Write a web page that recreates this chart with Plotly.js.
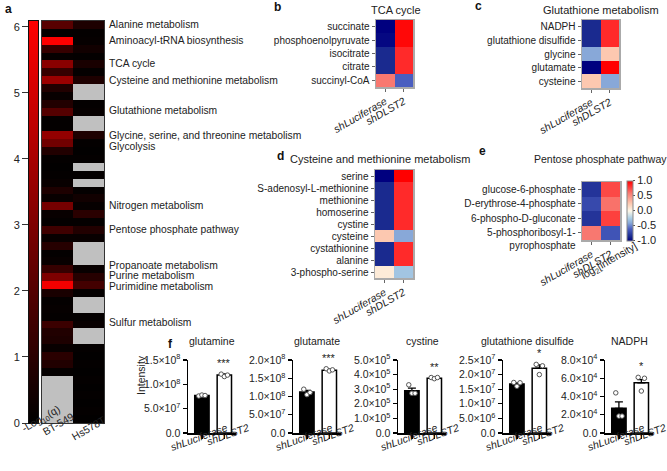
<!DOCTYPE html>
<html><head><meta charset="utf-8">
<script src="https://cdn.plot.ly/plotly-3.0.1.min.js"></script>
<style>html,body{margin:0;padding:0;background:#fff}#chart{width:667px;height:471px}</style>
</head><body><div id="chart"></div>
<script>
const W = 667, H = 471;
const FONT = 'Liberation Sans, Arial, Helvetica, sans-serif';

// ---------------- Panel a data ----------------
const cellLines = ['BT-549', 'Hs578T'];
const bt549Q = [2.1, 0.1, 6.05, 1.3, 0.15, 3.3, 1.3, 3.7, 0.8, 0.2,
  0.8, 2.0, 0.1, 0.1, 3.5, 2.7, 0.8, 0.1, 0.05, 0.1,
  0.2, 0.7, 0.2, 2.8, 0.2, 0.1, 1.5, 0.2, 0.9, 0.1,
  0.2, 1.3, 3.0, 5.8, 0.6, 0.1, 0.15, 0.1, 1.4, 0.8,
  0.7, 0.2, 1.0, 0.8, 0.1, null, null, null, null, null, null];
const hs578tQ = [0.7, 0.1, 0.15, 0.4, 0.1, 0.6, 0.1, 0.7, null, null,
  0.1, 0.15, null, null, 0.7, 0.1, 0.05, 0.1, null, 0.1,
  null, 0.1, 0.4, 0.15, 1.0, 0.1, 0.8, 0.2, null, null,
  null, 0.2, 0.9, 1.6, 0.1, null, null, 0.1, 0.2, null,
  null, 0.1, 0.05, 0.1, 0.05, 0.1, 0.05, 0.1, 0.05, 0.1, 0.05];
const qScaleRange = [0, 6.09];
const qTicks = [0, 1, 2, 3, 4, 5, 6];
const pathwayLabels = ['Alanine metabolism', 'Aminoacyl-tRNA biosynthesis', 'TCA cycle',
  'Cysteine and methionine metabolism', 'Glutathione metabolism',
  'Glycine, serine, and threonine metabolism', 'Glycolysis', 'Nitrogen metabolism',
  'Pentose phosphate pathway', 'Propanoate metabolism', 'Purine metabolism',
  'Purimidine metabolism', 'Sulfur metabolism'];
const pathwayLabelRows = [0, 2, 4.9, 7, 10.9, 14.0, 15.4, 22.9, 26, 30.5, 31.85, 33.2, 37.7];

// ---------------- Panels b-e data ----------------
const conditions = ['shLuciferase', 'shDLST2'];
const tcaMets = ['succinate', 'phosphoenolpyruvate', 'isocitrate', 'citrate', 'succinyl-CoA'];
const tcaLuc = [-1, -0.97, -0.85, -0.85, 0.6];
const tcaDlst = [0.97, 0.97, 0.85, 0.85, -0.6];
const gshMets = ['NADPH', 'glutathione disulfide', 'glycine', 'glutamate', 'cysteine'];
const gshLuc = [-0.85, -0.85, -0.4, -1, 0.25];
const gshDlst = [0.85, 0.85, 0.25, 1, -0.4];
const cysMets = ['serine', 'S-adenosyl-L-methionine', 'methionine', 'homoserine', 'cystine',
  'cysteine', 'cystathionine', 'alanine', '3-phospho-serine'];
const cysLuc = [-1, -0.85, -0.85, -0.85, -0.85, 0.25, -0.85, -0.85, 0.07];
const cysDlst = [1, 0.85, 0.85, 0.85, 0.85, -0.4, 0.85, 0.85, -0.28];
const pppMets = ['glucose-6-phosphate', 'D-erythrose-4-phosphate', '6-phospho-D-gluconate',
  '5-phosphoribosyl-1-pyrophosphate'];
const pppLabels = ['glucose-6-phosphate', 'D-erythrose-4-phosphate', '6-phospho-D-gluconate',
  '&nbsp;<br>5-phosphoribosyl-1-<br>pyrophosphate'];
const pppLuc = [-0.8, -0.7, -0.8, 0.6];
const pppDlst = [0.75, 0.62, 0.78, -0.65];
const log2Ticks = [-1, -0.5, 0, 0.5, 1];
const log2TickText = ['-1.0', '-0.5', '0.0', '0.5', '1.0'];

// ---------------- Panel f data ----------------
const fTitles = ['glutamine', 'glutamate', 'cystine', 'glutathione disulfide', 'NADPH'];
const fTickVals = [[0, 5e7, 1e8, 1.5e8], [0, 5e7, 1e8, 1.5e8, 2e8],
  [0, 1e5, 2e5, 3e5, 4e5, 5e5], [0, 5e6, 1e7, 1.5e7, 2e7, 2.5e7], [0, 2e4, 4e4, 6e4, 8e4]];
const fTickText = [
  ['0.0', '5.0×10<sup>7</sup>', '1.0×10<sup>8</sup>', '1.5×10<sup>8</sup>'],
  ['0.0', '5.0×10<sup>7</sup>', '1.0×10<sup>8</sup>', '1.5×10<sup>8</sup>', '2.0×10<sup>8</sup>'],
  ['0.0', '1.0×10<sup>5</sup>', '2.0×10<sup>5</sup>', '3.0×10<sup>5</sup>', '4.0×10<sup>5</sup>', '5.0×10<sup>5</sup>'],
  ['0.0', '5.0×10<sup>6</sup>', '1.0×10<sup>7</sup>', '1.5×10<sup>7</sup>', '2.0×10<sup>7</sup>', '2.5×10<sup>7</sup>'],
  ['0.0', '2.0×10<sup>4</sup>', '4.0×10<sup>4</sup>', '6.0×10<sup>4</sup>', '8.0×10<sup>4</sup>']];
const fMeanLuc = [7.7e7, 1.12e8, 2.9e5, 1.68e7, 2.7e4];
const fMeanDlst = [1.19e8, 1.72e8, 3.75e5, 2.22e7, 5.5e4];
const fSemLuc = [1.2e6, 5e6, 1.8e4, 4e5, 7e3];
const fSemDlst = [2.5e6, 3e6, 5e3, 1.1e6, 3.5e3];
const fPtsLuc = [[7.6e7, 7.8e7, 7.7e7], [1.2e8, 1.05e8, 1.11e8], [3.3e5, 2.72e5, 2.72e5],
  [1.73e7, 1.6e7, 1.72e7], [4.4e4, 1.85e4, 1.85e4]];
const fPtsDlst = [[1.21e8, 1.16e8, 1.19e8], [1.76e8, 1.7e8, 1.73e8], [3.8e5, 3.72e5, 3.8e5],
  [2.35e7, 2.0e7, 2.3e7], [6.1e4, 4.6e4, 6.0e4]];
const fStars = ['***', '***', '**', '*', '*'];

// ---------------- layout geometry (pixels) ----------------
const xd = (a, b) => [a / W, b / W];
const yd = (top, bottom) => [1 - bottom / H, 1 - top / H];

const qColors = [[0, '#000000'], [1, '#ff0000']];
const divColors = [[0, '#00007f'], [0.075, '#1a2a8f'], [0.2, '#4a5ec0'], [0.3, '#88a8d8'],
  [0.375, '#a8cce4'], [0.5, '#fdf8e8'], [0.625, '#fcc8b0'], [0.8, '#f87870'],
  [0.925, '#ff2a2a'], [1, '#ff0000']];

const traces = [];
const layout = {
  width: W, height: H, margin: {l: 0, r: 0, t: 0, b: 0},
  paper_bgcolor: '#fff', plot_bgcolor: 'rgba(0,0,0,0)',
  font: {family: FONT, size: 10, color: '#222'},
  showlegend: false, annotations: []
};
const ann = layout.annotations;

// Panel a: colour-scale strip (a ramp of the colour scale, drawn on its own axis)
const qRamp = [];
for (let i = 0; i <= 200; i++) qRamp.push(qScaleRange[0] + (qScaleRange[1] - qScaleRange[0]) * i / 200);
traces.push({type: 'heatmap', x: [0], y: qRamp, z: qRamp.map(v => [v]),
  zmin: qScaleRange[0], zmax: qScaleRange[1], colorscale: qColors, showscale: false,
  hoverinfo: 'skip', xaxis: 'x', yaxis: 'y'});
layout.xaxis = {domain: xd(29, 38), range: [-0.5, 0.5], showticklabels: false, ticks: '',
  showgrid: false, zeroline: false, showline: true, mirror: true, linecolor: '#111',
  linewidth: 1, anchor: 'y'};
layout.yaxis = {domain: yd(21, 423), range: qScaleRange, tickvals: qTicks, ticks: 'outside',
  ticklen: 6, tickwidth: 1, tickcolor: '#333', showgrid: false, zeroline: false,
  showline: true, mirror: true, linecolor: '#111', linewidth: 1, anchor: 'x',
  tickfont: {size: 11, color: '#222'}};

// Panel a: main heatmap
const rowIdx = bt549Q.map((_, i) => i);
const qZ = rowIdx.map(i => [bt549Q[i], hs578tQ[i]]);
const grayMask = qZ.map(r => r.map(v => v === null ? 1 : null));
traces.push({type: 'heatmap', x: [0, 1], y: rowIdx, z: grayMask, zmin: 0, zmax: 1,
  colorscale: [[0, '#c0c0c0'], [1, '#c0c0c0']], showscale: false, hoverinfo: 'skip',
  xaxis: 'x2', yaxis: 'y2'});
traces.push({type: 'heatmap', x: [0, 1], y: rowIdx, z: qZ,
  zmin: qScaleRange[0], zmax: qScaleRange[1], colorscale: qColors, showscale: false,
  xaxis: 'x2', yaxis: 'y2'});
layout.xaxis2 = {domain: xd(42, 104), range: [-0.5, 1.5], showticklabels: false, ticks: '',
  showgrid: false, zeroline: false, showline: true, mirror: true, linecolor: '#333',
  linewidth: 1, anchor: 'y2'};
layout.yaxis2 = {domain: yd(21, 423), range: [rowIdx.length - 0.5, -0.5], showticklabels: false,
  ticks: '', showgrid: false, zeroline: false, showline: true, mirror: true,
  linecolor: '#333', linewidth: 1, anchor: 'x2'};
pathwayLabels.forEach((t, i) => ann.push({text: t, xref: 'paper', yref: 'y2', x: 107 / W,
  y: pathwayLabelRows[i], xanchor: 'left', yanchor: 'middle', showarrow: false,
  font: {size: 10.3, color: '#222'}}));
ann.push({text: '-Log<sub>10</sub>(q)', xref: 'paper', yref: 'paper', x: 17 / W, y: 1 - 438 / H,
  textangle: -30, showarrow: false, font: {size: 10.5}});
cellLines.forEach((c, i) => ann.push({text: c, xref: 'x2', yref: 'paper', x: i, y: 1 - (440 + 5 * i) / H,
  textangle: -30, showarrow: false, font: {size: 10.5}}));

// Panels b-e heatmaps
function smallHeat(n, mets, labels, luc, dlst, xdom, ydom, showScale) {
  const z = mets.map((m, i) => [luc[i], dlst[i]]);
  const t = {type: 'heatmap', x: conditions, y: mets, z: z, zmin: -1, zmax: 1,
    colorscale: divColors, showscale: !!showScale, xaxis: 'x' + n, yaxis: 'y' + n};
  if (showScale) {
    t.colorbar = {x: 626.5 / W, xanchor: 'left', y: 1 - 210.5 / H, yanchor: 'middle',
      len: 60, lenmode: 'pixels', thickness: 6, thicknessmode: 'pixels',
      outlinewidth: 1, outlinecolor: '#888', tickmode: 'array', tickvals: log2Ticks,
      ticktext: log2TickText, ticks: 'outside', ticklen: 2, tickcolor: '#555',
      tickfont: {size: 11, color: '#222'}, xpad: 0, ypad: 0};
  }
  traces.push(t);
  layout['xaxis' + n] = {domain: xdom, anchor: 'y' + n, tickmode: 'array', tickvals: conditions,
    ticktext: conditions.map(c => '<i>' + c + '</i>'), tickangle: -30, ticks: 'outside',
    ticklen: 3, tickcolor: '#666', showgrid: false, zeroline: false, showline: true,
    mirror: true, linecolor: '#aaa', linewidth: 1.5, tickfont: {size: 10.5, color: '#222'}};
  layout['yaxis' + n] = {domain: ydom, anchor: 'x' + n, autorange: 'reversed', tickmode: 'array',
    tickvals: mets, ticktext: labels, ticks: 'outside', ticklen: 3, tickcolor: '#666',
    showgrid: false, zeroline: false, showline: true, mirror: true, linecolor: '#aaa',
    linewidth: 1.5, tickfont: {size: 10, color: '#222'}};
}
smallHeat(3, tcaMets, tcaMets, tcaLuc, tcaDlst, xd(376, 413), yd(20, 87));
smallHeat(4, gshMets, gshMets, gshLuc, gshDlst, xd(582, 619), yd(20, 88));
smallHeat(5, cysMets, cysMets, cysLuc, cysDlst, xd(375, 413), yd(170, 278));
smallHeat(6, pppMets, pppLabels, pppLuc, pppDlst, xd(582, 620), yd(182, 240), true);

const titleAnn = (t, x, y, size) => ann.push({text: t, xref: 'paper', yref: 'paper', x: x / W,
  y: 1 - y / H, xanchor: 'center', yanchor: 'middle', showarrow: false, font: {size: size || 11}});
titleAnn('TCA cycle', 396, 10);
titleAnn('Glutathione metabolism', 601, 10);
titleAnn('Cysteine and methionine metabolism', 380, 159);
titleAnn('Pentose phosphate pathway', 600, 159, 10.5);
ann.push({text: 'log<sub>2</sub>[intensity]', xref: 'paper', yref: 'paper', x: 643 / W, y: 1 - 261 / H,
  textangle: -30, showarrow: false, font: {size: 10.5}});

// Panel letters
[['a', 8, 9], ['b', 277, 7], ['c', 478, 6], ['d', 280, 156], ['e', 482, 151], ['f', 170, 344]]
  .forEach(p => ann.push({text: '<b>' + p[0] + '</b>', xref: 'paper', yref: 'paper', x: p[1] / W,
    y: 1 - p[2] / H, xanchor: 'center', yanchor: 'middle', showarrow: false, font: {size: 12, color: '#111'}}));

// Panel f bar charts
const fAxisLeft = [188, 293, 398, 503, 605];
fTitles.forEach((title, k) => {
  const n = 7 + k;
  const xa = 'x' + n, ya = 'y' + n;
  const top = fTickVals[k][fTickVals[k].length - 1];
  traces.push({type: 'bar', x: [0, 1], y: [fMeanLuc[k], fMeanDlst[k]], width: 0.64,
    marker: {color: ['#000', '#fff'], line: {color: '#000', width: 1.5}},
    error_y: {type: 'data', symmetric: false, array: [fSemLuc[k], fSemDlst[k]], arrayminus: [0, 0],
      color: '#000', thickness: 1.3, width: 4}, xaxis: xa, yaxis: ya, cliponaxis: false});
  const jit = [-0.14, 0, 0.14];
  traces.push({type: 'scatter', mode: 'markers',
    x: jit.concat(jit.map(j => 1 + j)),
    y: fPtsLuc[k].concat(fPtsDlst[k]),
    marker: {size: 4.5, color: '#fff', line: {color: '#555', width: 1}},
    xaxis: xa, yaxis: ya, cliponaxis: false});
  const L = fAxisLeft[k];
  layout['xaxis' + n] = {domain: xd(L, L + 48), range: [-0.62, 1.52], tickvals: [0, 1],
    showticklabels: false, ticks: 'outside', ticklen: 4, tickcolor: '#000', tickwidth: 1.3,
    showline: true, linecolor: '#000', linewidth: 1.5, showgrid: false, zeroline: false, anchor: ya};
  layout['yaxis' + n] = {domain: yd(360, 433), range: [0, top], tickmode: 'array',
    tickvals: fTickVals[k], ticktext: fTickText[k], ticks: 'outside', ticklen: 4,
    tickcolor: '#000', tickwidth: 1.3, showline: true, linecolor: '#000', linewidth: 1.5,
    showgrid: false, zeroline: false, anchor: xa, tickfont: {size: 10.5, color: '#222'}};
  titleAnn(title, L + 24, 341, 10.5);
  const starY = Math.max(fMeanDlst[k] + fSemDlst[k], Math.max(...fPtsDlst[k]));
  ann.push({text: fStars[k], xref: xa, yref: ya, x: 1, y: starY, yanchor: 'bottom', yshift: 3,
    showarrow: false, font: {size: 11}});
  ann.push({text: '<i>shLuciferase</i>', xref: xa, yref: 'paper', x: 0, xshift: -3, y: 1 - 455 / H,
    textangle: -20, showarrow: false, font: {size: 10.5}});
  ann.push({text: '<i>shDLST2</i>', xref: xa, yref: 'paper', x: 1, xshift: 4, y: 1 - 450 / H,
    textangle: -20, showarrow: false, font: {size: 10.5}});
});
ann.push({text: 'Intensity', xref: 'paper', yref: 'paper', x: 133 / W, y: 1 - 397 / H,
  textangle: -90, showarrow: false, font: {size: 10.5}});

Plotly.newPlot('chart', traces, layout, {staticPlot: true, displayModeBar: false});
</script></body></html>
